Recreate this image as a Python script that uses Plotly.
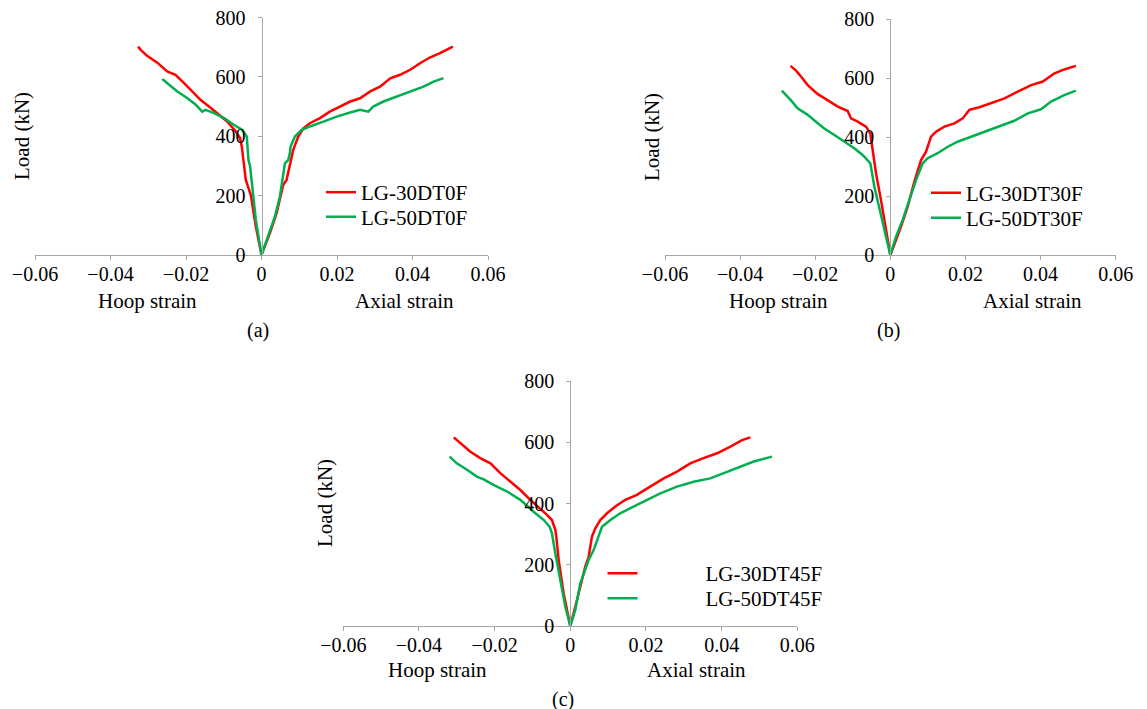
import plotly.graph_objects as go

# ---------------- data (strain, load kN) ----------------
# (a)
a30_hoop_strain = [0, -0.0015, -0.00283, -0.00416, -0.0046, -0.00522, -0.00566, -0.00681, -0.00903, -0.01168,
                   -0.0139, -0.0161, -0.0183, -0.0205, -0.0228, -0.025, -0.0276, -0.0303, -0.032, -0.0327]
a30_hoop_load = [0, 96, 202, 253, 298, 365, 393, 416, 449, 478, 500, 522, 551, 579, 607, 618, 648, 671, 691, 702]
a30_axial_strain = [0, 0.00221, 0.00398, 0.00531, 0.00575, 0.00664, 0.00752, 0.00841, 0.00973, 0.0111, 0.0128,
                    0.0155, 0.0181, 0.0208, 0.0235, 0.0261, 0.0288, 0.0314, 0.0341, 0.0367, 0.0394, 0.042,
                    0.0447, 0.0473, 0.05, 0.0507]
a30_axial_load = [0, 73, 140, 208, 236, 253, 298, 354, 399, 427, 444, 461, 483, 500, 517, 528, 551, 567, 595,
                  607, 624, 646, 666, 680, 697, 702]
a50_hoop_strain = [0, -0.0015, -0.00239, -0.00301, -0.00345, -0.00372, -0.0039, -0.00504, -0.00726, -0.00991,
                   -0.0126, -0.0148, -0.0157, -0.0174, -0.0196, -0.0223, -0.0245, -0.0263]
a50_hoop_load = [0, 118, 219, 298, 320, 365, 399, 421, 438, 461, 478, 489, 483, 506, 528, 551, 573, 593]
a50_axial_strain = [0, 0.00177, 0.00354, 0.00487, 0.00575, 0.0062, 0.00708, 0.00752, 0.0077, 0.00885, 0.0106,
                    0.0128, 0.0164, 0.0199, 0.0235, 0.0261, 0.0283, 0.0296, 0.0323, 0.0358, 0.0394, 0.0429,
                    0.0456, 0.0482]
a50_axial_load = [0, 62, 129, 197, 275, 309, 320, 343, 365, 399, 421, 433, 449, 466, 480, 489, 483, 500, 517,
                  534, 551, 567, 584, 596]

# (b)
b30_hoop_strain = [0, -0.00115, -0.00249, -0.00382, -0.0047, -0.00533, -0.00648, -0.0087, -0.01047, -0.01136,
                   -0.014, -0.0167, -0.0194, -0.022, -0.0238, -0.0251, -0.0266]
b30_hoop_load = [0, 85, 186, 277, 356, 412, 435, 452, 463, 488, 503, 525, 546, 576, 605, 625, 641]
b30_axial_strain = [0, 0.00151, 0.00284, 0.00462, 0.00639, 0.00817, 0.0095, 0.01083, 0.01216, 0.01438, 0.01705,
                    0.01926, 0.02104, 0.0237, 0.0268, 0.0304, 0.0339, 0.0375, 0.0406, 0.0437, 0.0463, 0.0494]
b30_axial_load = [0, 51, 96, 164, 249, 322, 350, 401, 418, 435, 446, 463, 492, 501, 514, 531, 554, 576, 588,
                  616, 629, 641]
b50_hoop_strain = [0, -0.00115, -0.00249, -0.00426, -0.00533, -0.0074, -0.0096, -0.0123, -0.0149, -0.0176,
                   -0.0198, -0.022, -0.0247, -0.0265, -0.0289]
b50_hoop_load = [0, 62, 130, 232, 311, 339, 362, 384, 407, 429, 452, 475, 497, 525, 557]
b50_axial_strain = [0, 0.00151, 0.00328, 0.00506, 0.00684, 0.00861, 0.00994, 0.0126, 0.0153, 0.0179, 0.0215,
                    0.025, 0.0286, 0.033, 0.0366, 0.0401, 0.0428, 0.0463, 0.0494]
b50_axial_load = [0, 62, 119, 186, 254, 311, 328, 345, 367, 384, 401, 418, 435, 455, 480, 494, 520, 542, 557]

# (c)
c30_hoop_strain = [0, -0.00176, -0.00308, -0.0037, -0.00396, -0.00485, -0.00617, -0.00793, -0.01057, -0.0132,
                   -0.0159, -0.0185, -0.0211, -0.0238, -0.0264, -0.0291, -0.0308]
c30_hoop_load = [0, 107, 216, 292, 314, 346, 363, 384, 412, 444, 471, 499, 531, 548, 569, 597, 616]
c30_axial_strain = [0, 0.00132, 0.00264, 0.00396, 0.00485, 0.00573, 0.00661, 0.00793, 0.0097, 0.0119, 0.01454,
                    0.0176, 0.0211, 0.0247, 0.0282, 0.0317, 0.0352, 0.0388, 0.0423, 0.0454, 0.0476]
c30_axial_load = [0, 63, 128, 194, 226, 292, 319, 346, 368, 390, 412, 428, 455, 482, 504, 531, 548, 564, 586,
                  607, 616]
c50_hoop_strain = [0, -0.00132, -0.00264, -0.00396, -0.00485, -0.00546, -0.007, -0.0097, -0.0132, -0.0167,
                   -0.0203, -0.0229, -0.0247, -0.0273, -0.03, -0.0319]
c50_hoop_load = [0, 63, 150, 237, 303, 324, 346, 373, 412, 439, 461, 479, 488, 510, 531, 553]
c50_axial_strain = [0, 0.00132, 0.00264, 0.00396, 0.00485, 0.00617, 0.00749, 0.00837, 0.0106, 0.0132, 0.0167,
                    0.0203, 0.0238, 0.0282, 0.0326, 0.037, 0.0405, 0.0441, 0.0485, 0.0533]
c50_axial_load = [0, 52, 139, 183, 216, 248, 297, 324, 346, 368, 390, 412, 433, 455, 471, 482, 499, 515, 537, 553]

x_ticks = [-0.06, -0.04, -0.02, 0, 0.02, 0.04, 0.06]
x_tick_labels = ["\u22120.06", "\u22120.04", "\u22120.02", "0", "0.02", "0.04", "0.06"]
y_ticks = [0, 200, 400, 600, 800]

panels = [
    ("(a)", "LG-30DT0F", "LG-50DT0F", a30_hoop_strain, a30_hoop_load, a30_axial_strain, a30_axial_load,
     a50_hoop_strain, a50_hoop_load, a50_axial_strain, a50_axial_load),
    ("(b)", "LG-30DT30F", "LG-50DT30F", b30_hoop_strain, b30_hoop_load, b30_axial_strain, b30_axial_load,
     b50_hoop_strain, b50_hoop_load, b50_axial_strain, b50_axial_load),
    ("(c)", "LG-30DT45F", "LG-50DT45F", c30_hoop_strain, c30_hoop_load, c30_axial_strain, c30_axial_load,
     c50_hoop_strain, c50_hoop_load, c50_axial_strain, c50_axial_load),
]

# ---------------- layout geometry (reference-image pixels) ----------------
OFF = 8                      # page body margin of the browser
W, H = 1147 - OFF, 709 - OFF


def fx(px):
    return (px - OFF) / W


def fy(py):
    return 1 - (py - OFF) / H


# x-left, x-right, y(0), y(800)
boxes = [(35, 488, 255, 17.5), (665, 1115.7, 255, 19), (343.3, 797.3, 626, 381)]
# legend sample left x, row centres (red, green)
legend_pos = [(326, 193, 217.5), (931, 193.5, 218.5), (607.5, 574, 599)]
legend_pad = ["", "", "\u00a0" * 12]
titles = [  # load title x, load title y, hoop x, axial x, labels y, panel label x, y
    (22, 136, 147, 404, 301, 258, 330),
    (652, 137, 778, 1032, 301, 888, 330),
    (325, 503, 437, 696, 670, 563, 699),
]

FONT = "Liberation Serif, Times New Roman, serif"
RED = "#FF0000"
GREEN = "#00B050"
AXIS = "#A6A6A6"

fig = go.Figure()
layout = dict(width=W, height=H, margin=dict(l=0, r=0, t=0, b=0, autoexpand=False), paper_bgcolor="white",
              plot_bgcolor="white", font=dict(family=FONT, size=20, color="black"), annotations=[],
              showlegend=True)

for i, p in enumerate(panels):
    lab, n30, n50, h30x, h30y, a30x, a30y, h50x, h50y, a50x, a50y = p
    sfx = "" if i == 0 else str(i + 1)
    leg30 = "legend" if i == 0 else "legend" + str(2 * i + 1)
    leg50 = "legend" + str(2 * i + 2)
    xs30 = list(reversed(h30x)) + a30x[1:]
    ys30 = list(reversed(h30y)) + a30y[1:]
    xs50 = list(reversed(h50x)) + a50x[1:]
    ys50 = list(reversed(h50y)) + a50y[1:]
    fig.add_trace(go.Scatter(x=xs30, y=ys30, mode="lines", name=legend_pad[i] + n30,
                             line=dict(color=RED, width=2.5), showlegend=True,
                             xaxis="x" + sfx, yaxis="y" + sfx, legend=leg30))
    fig.add_trace(go.Scatter(x=xs50, y=ys50, mode="lines", name=legend_pad[i] + n50,
                             line=dict(color=GREEN, width=2.5), showlegend=True,
                             xaxis="x" + sfx, yaxis="y" + sfx, legend=leg50))
    x0, x1, y0, y1 = boxes[i]
    xd = [fx(x0), fx(x1)]
    yd = [fy(y0), fy(y1)]
    layout["xaxis" + sfx] = dict(domain=xd, range=[-0.06, 0.06], tickvals=x_ticks, ticktext=x_tick_labels,
                                 showgrid=False, zeroline=False, showline=True, linecolor=AXIS, linewidth=1,
                                 ticks="outside", ticklen=4, tickcolor=AXIS, anchor="y" + sfx,
                                 tickfont=dict(size=20), ticklabelstandoff=-3, fixedrange=True,
                                 automargin=False, ticklabeloverflow="allow")
    layout["yaxis" + sfx] = dict(domain=yd, range=[0, 800], tickvals=y_ticks, showgrid=False, zeroline=False,
                                 showline=True, linecolor=AXIS, linewidth=1, ticks="outside", ticklen=4,
                                 tickcolor=AXIS, anchor="free", position=(xd[0] + xd[1]) / 2,
                                 tickfont=dict(size=20), ticklabelstandoff=8, fixedrange=True,
                                 automargin=False, ticklabeloverflow="allow")
    lx, r1, r2 = legend_pos[i]
    for leg, rc in ((leg30, r1), (leg50, r2)):
        layout[leg] = dict(x=fx(lx - 5), y=fy(rc - 21), xanchor="left", yanchor="top",
                           bgcolor="rgba(0,0,0,0)", font=dict(size=21, family=FONT), visible=True,
                           itemclick=False, itemdoubleclick=False)
    tx, ty, hx, ax, lyy, px, py = titles[i]
    common = dict(xref="paper", yref="paper", showarrow=False, xanchor="center", yanchor="middle")
    layout["annotations"] += [
        dict(text="Load (kN)", x=fx(tx), y=fy(ty), textangle=-90, font=dict(size=21), **common),
        dict(text="Hoop strain", x=fx(hx), y=fy(lyy), font=dict(size=21), **common),
        dict(text="Axial strain", x=fx(ax), y=fy(lyy), font=dict(size=21), **common),
        dict(text=lab, x=fx(px), y=fy(py), font=dict(size=20), **common),
    ]

fig.update_layout(**layout)
fig.write_html("out.html")
